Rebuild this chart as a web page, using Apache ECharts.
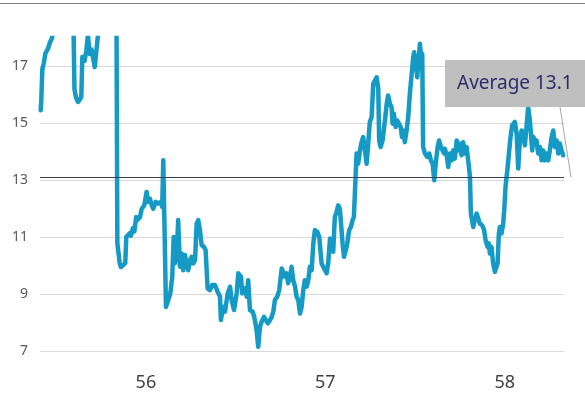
<!DOCTYPE html>
<html>
<head>
<meta charset="utf-8">
<script src="https://cdn.jsdelivr.net/npm/echarts@6/dist/echarts.min.js"></script>
<style>
  html, body { margin: 0; padding: 0; background: #ffffff; }
  #chart { width: 585px; height: 393px; }
</style>
</head>
<body>
<div id="chart"></div>
<script>
// Time (decimal year, short Buddhist-era form) and price readings
const years = [
  55.414, 55.417, 55.423, 55.432, 55.440, 55.455, 55.466, 55.477, 55.488, 55.505,
  55.521, 55.555, 55.588, 55.597, 55.602, 55.611, 55.622, 55.633, 55.640, 55.646,
  55.659, 55.668, 55.677, 55.687, 55.697, 55.705, 55.715, 55.725, 55.733, 55.744,
  55.772, 55.800, 55.822, 55.836, 55.841, 55.854, 55.861, 55.872, 55.885, 55.891,
  55.910, 55.917, 55.928, 55.936, 55.946, 55.953, 55.967, 55.977, 55.991, 56.004,
  56.013, 56.023, 56.032, 56.041, 56.055, 56.069, 56.084, 56.091, 56.097, 56.106,
  56.112, 56.125, 56.136, 56.147, 56.155, 56.162, 56.172, 56.180, 56.190, 56.199,
  56.208, 56.218, 56.227, 56.236, 56.246, 56.255, 56.264, 56.274, 56.283, 56.292,
  56.301, 56.311, 56.324, 56.333, 56.344, 56.357, 56.370, 56.385, 56.400, 56.413,
  56.418, 56.431, 56.441, 56.456, 56.469, 56.478, 56.491, 56.506, 56.515, 56.530,
  56.537, 56.552, 56.562, 56.570, 56.580, 56.595, 56.604, 56.617, 56.626, 56.636,
  56.645, 56.658, 56.669, 56.680, 56.691, 56.701, 56.710, 56.719, 56.732, 56.743,
  56.757, 56.765, 56.775, 56.784, 56.793, 56.803, 56.812, 56.821, 56.831, 56.840,
  56.849, 56.859, 56.868, 56.877, 56.886, 56.896, 56.905, 56.914, 56.924, 56.933,
  56.942, 56.955, 56.966, 56.979, 56.988, 56.998, 57.007, 57.016, 57.026, 57.035,
  57.044, 57.053, 57.063, 57.072, 57.081, 57.091, 57.096, 57.104, 57.115, 57.122,
  57.133, 57.143, 57.152, 57.159, 57.167, 57.174, 57.183, 57.193, 57.202, 57.211,
  57.221, 57.230, 57.239, 57.248, 57.258, 57.267, 57.276, 57.286, 57.295, 57.300,
  57.308, 57.319, 57.332, 57.342, 57.350, 57.360, 57.369, 57.375, 57.382, 57.392,
  57.401, 57.410, 57.420, 57.427, 57.434, 57.443, 57.453, 57.462, 57.471, 57.481,
  57.490, 57.495, 57.505, 57.512, 57.520, 57.527, 57.534, 57.540, 57.545, 57.555,
  57.568, 57.579, 57.588, 57.598, 57.607, 57.616, 57.626, 57.634, 57.644, 57.653,
  57.662, 57.666, 57.676, 57.685, 57.694, 57.704, 57.713, 57.722, 57.732, 57.740,
  57.750, 57.759, 57.768, 57.778, 57.787, 57.796, 57.806, 57.811, 57.824, 57.833,
  57.843, 57.852, 57.861, 57.874, 57.885, 57.893, 57.904, 57.911, 57.917, 57.926,
  57.935, 57.945, 57.954, 57.960, 57.967, 57.973, 57.982, 57.991, 57.997, 58.004,
  58.016, 58.023, 58.032, 58.041, 58.056, 58.066, 58.075, 58.084, 58.094, 58.103,
  58.112, 58.121, 58.130, 58.140, 58.145, 58.153, 58.160, 58.168, 58.177, 58.186,
  58.196, 58.205, 58.214, 58.223, 58.233, 58.242, 58.251, 58.261, 58.270, 58.279,
  58.289, 58.298, 58.307, 58.316, 58.325
];
const price = [
  15.46, 15.80, 16.90, 17.14, 17.46, 17.63, 17.85, 18.00, 18.40, 18.60,
  19.00, 19.30, 18.60, 18.30, 16.20, 15.90, 15.75, 15.71, 15.92, 17.33,
  17.20, 17.56, 18.10, 17.44, 17.60, 17.33, 16.98, 17.60, 18.10, 18.80,
  19.20, 19.50, 19.30, 19.00, 10.80, 10.09, 9.95, 9.91, 10.09, 11.01,
  11.14, 11.05, 11.32, 11.20, 11.71, 11.60, 11.70, 12.00, 12.12, 12.59,
  12.24, 12.35, 12.12, 12.00, 12.24, 12.18, 12.24, 12.06, 13.70, 13.64,
  8.55, 8.79, 9.02, 9.61, 11.01, 10.08, 10.43, 11.60, 9.96, 10.43,
  9.84, 10.37, 10.08, 9.84, 10.19, 10.31, 10.08, 10.19, 11.48, 11.60,
  11.25, 10.72, 10.66, 10.54, 9.20, 9.14, 9.32, 9.32, 9.08, 8.91,
  8.09, 8.55, 8.38, 9.02, 9.26, 8.79, 8.44, 9.02, 9.73, 9.61,
  9.02, 9.20, 8.91, 9.49, 8.44, 8.38, 8.20, 7.74, 7.15, 7.85,
  8.03, 8.20, 8.08, 7.97, 8.08, 8.20, 8.38, 8.79, 8.91, 9.14,
  9.90, 9.84, 9.61, 9.73, 9.38, 9.61, 9.96, 9.49, 9.26, 8.91,
  8.79, 8.32, 8.55, 9.14, 9.49, 9.26, 9.49, 9.96, 9.84, 10.78,
  11.25, 11.19, 11.01, 10.08, 9.96, 10.02, 9.73, 10.08, 10.95, 10.66,
  10.49, 11.71, 11.89, 12.12, 12.00, 11.95, 10.78, 10.31, 10.55, 10.78,
  11.25, 11.37, 11.60, 11.71, 12.88, 13.94, 13.58, 14.05, 14.34, 14.52,
  14.05, 13.58, 14.29, 15.05, 15.22, 16.39, 16.45, 16.62, 16.22, 14.40,
  14.17, 14.40, 15.10, 15.69, 15.98, 15.69, 15.57, 14.99, 15.34, 14.87,
  15.10, 15.10, 14.87, 14.52, 14.75, 14.34, 14.75, 15.22, 16.04, 16.04,
  17.33, 17.50, 17.10, 16.62, 17.20, 17.80, 17.33, 17.44, 14.17, 13.94,
  13.82, 13.94, 13.70, 13.58, 13.00, 13.64, 14.17, 14.40, 14.17, 14.23,
  13.94, 14.11, 13.88, 13.47, 13.94, 13.70, 14.05, 13.76, 14.40, 14.05,
  14.29, 13.88, 14.34, 13.94, 14.17, 13.70, 13.12, 11.83, 11.36, 11.60,
  11.83, 11.66, 11.48, 11.42, 11.25, 10.89, 10.66, 10.78, 10.43, 10.66,
  10.08, 9.78, 9.72, 10.08, 11.13, 11.36, 11.13, 11.48, 11.95, 12.77,
  13.47, 13.94, 14.52, 14.93, 15.05, 14.64, 13.41, 14.40, 14.75, 14.52,
  14.23, 14.87, 15.57, 15.10, 14.70, 14.05, 14.52, 14.29, 14.40, 13.94,
  14.17, 13.70, 14.05, 13.70, 13.94, 13.70, 14.05, 14.52, 14.75, 14.17,
  14.40, 13.94, 14.29, 14.05, 13.88
];
const yTicks = [7, 9, 11, 13, 15, 17];
const xTicks = [56, 57, 58];
const averageValue = 13.1;
const averageText = 'Average ' + averageValue.toFixed(1);

const xMin = 55.41, xMax = 58.33;
const yMin = 7, yMax = 18;

const chart = echarts.init(document.getElementById('chart'), null, { renderer: 'canvas' });

chart.setOption({
  animation: false,
  backgroundColor: '#ffffff',
  grid: { left: 40, top: 38, width: 524, height: 313, containLabel: false },
  xAxis: {
    type: 'value',
    min: xMin,
    max: xMax,
    axisLine: { show: false },
    axisTick: { show: false, customValues: xTicks },
    splitLine: { show: false },
    axisLabel: {
      customValues: xTicks,
      color: '#404040',
      fontFamily: 'Noto Sans',
      fontSize: 18,
      margin: 23,
      formatter: v => String(Math.round(v))
    }
  },
  yAxis: {
    type: 'value',
    min: yMin,
    max: yMax,
    axisLine: { show: false },
    axisTick: { show: false, customValues: yTicks },
    splitLine: { show: true, lineStyle: { color: '#d9d9d9', width: 1 } },
    axisLabel: {
      customValues: yTicks,
      color: '#595959',
      fontFamily: 'Noto Sans',
      fontSize: 14,
      margin: 12
    }
  },
  series: [{
    type: 'line',
    data: years.map((x, i) => [x, price[i]]),
    showSymbol: false,
    symbol: 'none',
    clip: true,
    lineStyle: { color: '#159ac6', width: 4.5, join: 'round', cap: 'round' },
    markLine: {
      silent: true,
      symbol: 'none',
      label: { show: false },
      lineStyle: { color: '#3c3f58', width: 1, type: 'solid' },
      data: [{ yAxis: averageValue }]
    }
  }]
});

// Callout box with a leader line to the end of the average line
const avgEnd = chart.convertToPixel({ gridIndex: 0 }, [xMax, averageValue]);
chart.setOption({
  graphic: [
    { type: 'line', shape: { x1: 0, y1: 3.5, x2: 585, y2: 3.5 }, style: { stroke: '#7f7f7f', lineWidth: 1 }, z: 10 },
    { type: 'line', shape: { x1: 560, y1: 107, x2: avgEnd[0] + 7, y2: avgEnd[1] }, style: { stroke: '#a6a6a6', lineWidth: 1 }, z: 10 },
    { type: 'rect', shape: { x: 445, y: 60, width: 145, height: 47 }, style: { fill: '#bfbfbf' }, z: 11 },
    { type: 'text', x: 457, y: 83.5, style: { text: averageText, fill: '#2e2a6b', font: '19px "Noto Sans"', textVerticalAlign: 'middle' }, z: 12 }
  ]
});
</script>
</body>
</html>
